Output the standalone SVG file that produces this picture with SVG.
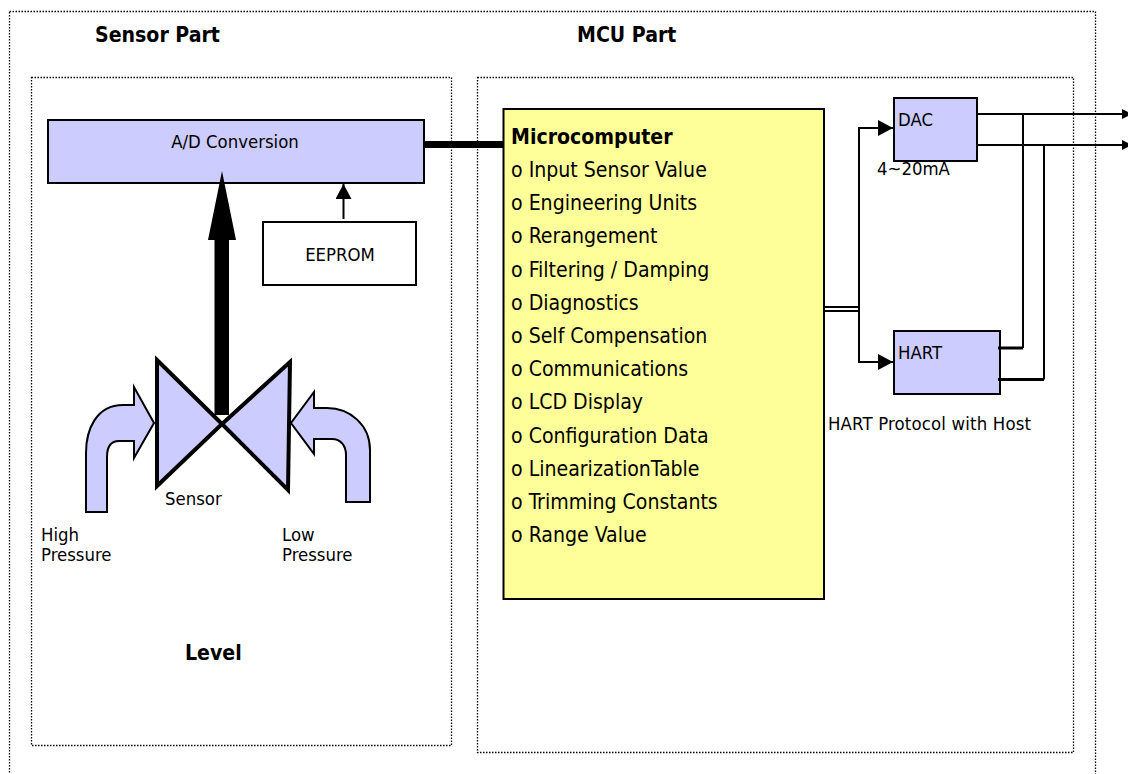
<svg xmlns="http://www.w3.org/2000/svg" width="1128" height="774" viewBox="0 0 1128 774">
<style>
text{font-family:"DejaVu Sans Condensed","DejaVu Sans",sans-serif;font-stretch:condensed;fill:#000;font-size:18.4px}
.b{font-weight:bold;font-size:21.1px}
.l{font-size:21.1px}
.dot{fill:none;stroke:#000;stroke-width:1.3;stroke-dasharray:1.5 1.5}
.blue{fill:#ccccff;stroke:#000;stroke-width:2}
.sens{fill:#ccccff;stroke:#000;stroke-width:4}
.flow{fill:#ccccff;stroke:#000;stroke-width:2}
.c{fill:none;stroke:#000;stroke-width:2}
</style>
<defs>
<marker id="a" markerUnits="userSpaceOnUse" markerWidth="16" markerHeight="16" refX="15" refY="8" orient="auto"><path d="M0 0L15 8L0 16Z" fill="#000"/></marker>
</defs>
<rect id="frame" class="dot" x="9.5" y="11.5" width="1086" height="790"/>
<g id="sensor-part"><rect class="dot" x="31.5" y="77.5" width="420" height="668"/><text class="b" x="95" y="42">Sensor Part</text><text class="b" x="185" y="660">Level</text></g>
<g id="mcu-part"><rect class="dot" x="477.5" y="77.5" width="596" height="675"/><text class="b" x="577" y="42">MCU Part</text></g>
<g id="ad"><rect class="blue" x="48" y="120" width="376" height="63"/><text x="235" y="148" text-anchor="middle">A/D Conversion</text></g>
<g id="eeprom"><rect x="263" y="222" width="153" height="63" fill="#fff" stroke="#000" stroke-width="2"/><text x="340" y="261" text-anchor="middle">EEPROM</text></g>
<g id="micro"><rect x="503.5" y="109" width="320.500" height="490" fill="#ffff99" stroke="#000" stroke-width="2"/>
<text class="b" x="511" y="144">Microcomputer</text>
<g class="list"><text class="l" x="511" y="177">o Input Sensor Value</text><text class="l" x="511" y="210">o Engineering Units</text><text class="l" x="511" y="243">o Rerangement</text><text class="l" x="511" y="276.500">o Filtering / Damping</text><text class="l" x="511" y="309.500">o Diagnostics</text><text class="l" x="511" y="342.500">o Self Compensation</text><text class="l" x="511" y="376">o Communications</text><text class="l" x="511" y="409">o LCD Display</text><text class="l" x="511" y="442.500">o Configuration Data</text><text class="l" x="511" y="475.500">o LinearizationTable</text><text class="l" x="511" y="509">o Trimming Constants</text><text class="l" x="511" y="542">o Range Value</text></g></g>
<g id="dac"><rect class="blue" x="894" y="98" width="83" height="63"/><text x="898" y="126">DAC</text><text x="877" y="175">4~20mA</text></g>
<g id="hart"><rect class="blue" x="894" y="331" width="106" height="63"/><text x="898" y="359">HART</text><text x="828" y="430" textLength="203">HART Protocol with Host</text></g>
<g id="sensor"><path class="sens" d="M157 360L222 424L157 486Z"/><path class="sens" d="M290 362L222 424L288 490Z"/><text x="165" y="505">Sensor</text></g>
<g id="high"><path class="flow" d="M86 512H107V457C107 447 110 441 119 441H134V458L154 423L134 387V405H123C96 405 86 430 86 453Z"/><text x="41" y="541">High</text><text x="41" y="561">Pressure</text></g>
<g id="low"><path class="flow" d="M346 502H370V450C370 425 350 408 327 408H314V392L291 423L314 454V439H332C341 439 346 446 346 455Z"/><text x="282" y="541">Low</text><text x="282" y="561">Pressure</text></g>
<g id="connectors">
<rect x="214.500" y="240" width="14.500" height="175"/><path d="M222 171L236 240H208Z"/>
<path class="c" d="M343.500 219V184" marker-end="url(#a)"/>
<rect x="424" y="141" width="79" height="7"/>
<path class="c" stroke-width="1.500" d="M824 307H859M824 311H859"/>
<path class="c" d="M859 309V128H893" marker-end="url(#a)"/>
<path class="c" d="M859 309V362H893" marker-end="url(#a)"/>
<path class="c" d="M977 114H1128"/><path d="M1122 109L1132 114L1122 119Z"/>
<path class="c" d="M977 145H1128"/><path d="M1122 140L1132 145L1122 150Z"/>
<path class="c" d="M1023 348V114"/><path class="c" style="stroke-width:3" d="M998 348H1023"/>
<path class="c" d="M1044 379.500V145"/><path class="c" style="stroke-width:3" d="M998 379.500H1044"/>
</g>
</svg>
